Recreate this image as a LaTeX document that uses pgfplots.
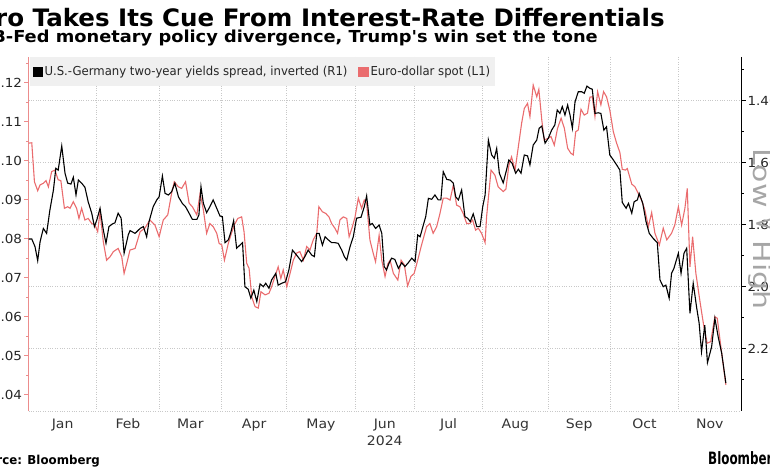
\documentclass[border=0pt]{standalone}
\usepackage{fontspec}
\setmainfont{DejaVu Sans}[FakeStretch=0.9]
\newfontfamily\titlef{DejaVu Sans}[FakeStretch=1.022]
\newfontfamily\subf{DejaVu Sans}[FakeStretch=1.08]
\newfontfamily\tickf{DejaVu Sans}[FakeStretch=1.08]
\newfontfamily\legf{DejaVu Sans}[FakeStretch=0.95]
\newfontfamily\hlf{DejaVu Sans}[FakeStretch=1.25]
\newfontfamily\bbf{DejaVu Sans}[FakeStretch=0.70]
\newfontfamily\srcf{DejaVu Sans}[FakeStretch=0.96]
\usepackage{graphicx}
\usepackage{pgfplots}
\usepackage{pgfplotstable}
\pgfplotsset{compat=1.18}
\definecolor{eured}{RGB}{234,108,110}
\definecolor{axred}{RGB}{236,140,140}
\definecolor{gridg}{RGB}{200,200,200}
\definecolor{legbg}{RGB}{240,240,240}

\pgfplotstableread{
d v
0 1.1045
1.1 1.1046
2.0 1.0946
3.1 1.0923
3.9 1.0938
5.0 1.0942
5.9 1.0949
6.7 1.0933
7.8 1.0972
8.9 1.0976
10.0 1.0951
10.9 1.0949
12.1 1.0878
13.2 1.0882
14.0 1.0878
15.1 1.0895
16.2 1.0878
17.0 1.0852
17.9 1.0878
19.0 1.0848
20.1 1.0852
21.3 1.0839
22.4 1.0835
23.3 1.0818
24.1 1.0869
25.2 1.0792
26.3 1.0745
27.5 1.0754
28.6 1.0767
30.2 1.0775
31.4 1.0754
32.2 1.0711
33.1 1.0737
34.2 1.0771
35.9 1.0775
37.6 1.0818
39.2 1.0827
40.9 1.0848
42.6 1.0835
44.0 1.0805
45.4 1.0848
46.9 1.0861
48.2 1.0916
49.1 1.0946
50.5 1.0933
51.6 1.0929
52.9 1.0946
54.1 1.0891
55.2 1.0882
56.7 1.0861
57.8 1.0916
58.9 1.0874
60.0 1.0814
61.1 1.0839
62.2 1.0831
63.4 1.0814
64.2 1.0788
65.1 1.0784
66.0 1.0745
67.3 1.0788
68.2 1.0810
69.3 1.0835
70.5 1.0852
71.8 1.0856
72.6 1.0818
73.5 1.0737
74.3 1.0724
75.2 1.0651
76.3 1.0626
77.4 1.0622
78.3 1.0664
79.7 1.0656
81.0 1.0660
81.9 1.0677
83.0 1.0703
84.1 1.0728
85.0 1.0698
85.8 1.0720
87.0 1.0677
88.1 1.0711
89.2 1.0745
90.3 1.0763
91.4 1.0767
92.6 1.0745
93.7 1.0780
94.8 1.0771
95.9 1.0797
97.1 1.0814
97.8 1.0882
99.0 1.0869
100.1 1.0865
101.2 1.0856
102.1 1.0839
103.2 1.0827
104.1 1.0814
104.9 1.0848
106.0 1.0856
107.2 1.0852
108.0 1.0805
109.1 1.0831
110.0 1.0856
111.1 1.0904
112.2 1.0878
113.1 1.0899
113.9 1.0891
115.0 1.0797
116.1 1.0763
116.9 1.0741
118.1 1.0809
119.0 1.0745
120.1 1.0703
121.0 1.0735
121.8 1.0745
122.9 1.0711
124.4 1.0694
125.5 1.0745
126.6 1.0733
127.7 1.0679
128.8 1.0703
129.9 1.0711
131.1 1.0745
132.4 1.0784
134.1 1.0831
135.2 1.0839
136.3 1.0814
137.5 1.0831
138.6 1.0865
139.7 1.0904
140.9 1.0904
142.0 1.0899
143.1 1.0938
144.2 1.0886
145.3 1.0882
146.4 1.0865
147.6 1.0839
148.7 1.0839
149.6 1.0848
150.6 1.0822
151.5 1.0827
152.6 1.0814
153.8 1.0790
154.3 1.0856
155.8 1.0976
157.1 1.0963
158.2 1.0933
159.9 1.0921
160.8 1.0927
161.8 1.0988
162.7 1.1010
163.9 1.0976
165.0 1.1036
166.1 1.1096
167.0 1.1134
168.1 1.1147
168.9 1.1113
170.0 1.1194
171.2 1.1164
171.9 1.1183
172.9 1.1104
173.7 1.1053
174.9 1.1057
176.0 1.1062
177.1 1.1040
178.2 1.1083
179.4 1.1109
180.5 1.1083
181.6 1.1032
182.7 1.1019
183.5 1.1015
184.3 1.1074
185.2 1.1079
186.1 1.1132
187.2 1.1117
188.3 1.1122
189.1 1.1163
189.9 1.1164
190.8 1.1113
191.7 1.1177
192.8 1.1143
193.7 1.1177
194.7 1.1164
195.8 1.1130
197.0 1.1074
198.1 1.1045
199.2 1.1021
200.0 1.0978
201.1 1.0976
201.7 1.0980
203.2 1.0940
204.3 1.0933
205.4 1.0916
206.5 1.0899
207.6 1.0874
208.8 1.0831
209.9 1.0867
211.0 1.0814
212.5 1.0784
213.8 1.0827
215.0 1.0797
216.6 1.0814
217.7 1.0835
218.9 1.0882
220.0 1.0835
221.1 1.0878
221.9 1.0929
222.8 1.0728
223.7 1.0805
224.8 1.0711
226.2 1.0638
227.5 1.0574
228.6 1.0532
229.8 1.0536
231.2 1.0600
232.0 1.0596
233.5 1.0506
234.9 1.0425
}\eurusd

\pgfplotstableread{
d v
0 1.846
1.1 1.846
2.2 1.871
3.1 1.916
3.9 1.855
5.0 1.812
6.1 1.828
7.2 1.753
8.4 1.688
9.2 1.618
10.0 1.624
11.2 1.546
12.3 1.634
13.2 1.666
14.3 1.669
15.1 1.647
16.0 1.704
16.8 1.656
17.9 1.666
19.0 1.679
20.1 1.726
21.3 1.763
22.2 1.806
23.0 1.785
24.1 1.747
25.2 1.817
26.1 1.860
27.1 1.806
28.2 1.798
29.1 1.794
30.2 1.763
31.2 1.779
32.2 1.892
33.6 1.833
34.2 1.819
35.9 1.828
37.6 1.812
38.7 1.806
39.8 1.839
40.6 1.790
42.0 1.742
43.2 1.720
44.0 1.710
45.1 1.643
46.0 1.699
47.1 1.704
48.2 1.694
49.3 1.666
50.5 1.710
51.8 1.731
52.9 1.742
54.1 1.763
55.2 1.783
56.7 1.783
57.4 1.769
58.1 1.677
58.9 1.731
60.0 1.761
61.1 1.742
62.2 1.720
63.4 1.747
64.5 1.772
65.3 1.774
66.2 1.858
67.3 1.849
68.2 1.823
69.1 1.787
70.1 1.876
71.2 1.866
72.1 1.858
72.9 2.000
74.0 2.008
74.9 2.037
75.9 2.011
76.9 2.048
78.0 1.991
79.1 2.000
79.9 1.989
81.0 2.005
81.9 1.978
83.3 1.957
84.1 1.995
85.3 1.989
86.6 1.984
87.7 1.946
88.9 1.882
90.3 1.898
92.0 1.919
93.1 1.903
94.2 1.882
95.4 1.898
96.3 1.903
97.1 1.828
97.9 1.828
99.0 1.866
99.9 1.839
101.0 1.849
102.1 1.858
103.2 1.858
104.3 1.860
105.5 1.882
106.4 1.903
107.2 1.914
108.3 1.871
109.4 1.839
110.5 1.779
112.0 1.776
113.1 1.742
113.9 1.707
115.0 1.801
115.8 1.796
116.9 1.812
118.1 1.801
119.0 1.828
119.8 1.935
120.6 1.946
121.4 1.925
122.3 1.908
123.4 1.912
124.6 1.941
125.7 1.923
126.8 1.935
127.9 1.923
129.1 1.908
130.2 1.919
131.1 1.833
131.9 1.839
133.0 1.801
133.8 1.774
134.7 1.715
135.8 1.718
136.9 1.704
138.0 1.720
138.9 1.720
139.7 1.629
140.9 1.654
142.0 1.656
143.1 1.666
143.9 1.710
144.8 1.720
145.9 1.688
147.0 1.774
147.9 1.779
148.8 1.790
149.8 1.765
151.0 1.806
152.1 1.806
153.0 1.742
153.8 1.704
154.9 1.527
156.0 1.575
156.9 1.586
157.7 1.554
158.6 1.634
159.9 1.665
161.0 1.624
161.8 1.591
162.9 1.602
164.1 1.634
165.0 1.621
165.9 1.634
167.0 1.575
168.1 1.578
168.9 1.607
170.0 1.543
171.2 1.527
172.0 1.489
172.9 1.482
174.0 1.537
175.1 1.521
176.2 1.495
177.3 1.478
178.1 1.430
179.0 1.441
179.8 1.419
180.7 1.446
181.6 1.414
182.4 1.446
183.2 1.489
184.1 1.403
185.2 1.371
186.3 1.371
187.2 1.376
188.1 1.353
189.1 1.360
189.9 1.363
190.8 1.441
191.9 1.439
192.8 1.441
193.8 1.495
194.7 1.484
195.8 1.575
197.0 1.591
198.1 1.607
199.2 1.624
200.0 1.728
201.3 1.747
202.1 1.731
203.2 1.763
204.0 1.726
205.1 1.720
205.7 1.699
206.9 1.731
208.0 1.790
209.1 1.828
210.4 1.844
211.8 1.858
212.7 1.978
213.8 2.000
214.7 1.995
215.8 2.037
216.6 1.957
217.4 1.941
218.9 1.892
219.8 1.957
220.8 1.892
221.7 1.876
222.8 2.086
223.9 1.989
225.1 2.070
225.9 2.118
226.7 2.210
227.8 2.124
228.7 2.245
230.1 2.194
231.2 2.102
232.3 2.161
233.5 2.215
234.9 2.311
}\spread

\pgfplotsset{
  base/.style={
    at={(28.5bp,59.3bp)}, anchor=south west, scale only axis,
    width=712.5bp, height=353.7bp,
    xmin=0, xmax=240,
    /pgf/number format/assume math mode=true,
    tick label style={font=\tickf\fontsize{12.5bp}{14bp}\selectfont, text=black!85},
    tick align=outside,
    major tick length=4.5bp, minor tick length=2.5bp,
  },
}

\begin{document}
\begin{tikzpicture}[x=1bp,y=1bp]
\useasboundingbox (0,0) rectangle (770,470);
\clip (0,0) rectangle (770,470);

% right axis, grids
\begin{axis}[base,
  ymin=1.259, ymax=2.4, y dir=reverse,
  axis y line*=right, axis x line*=bottom,
  y axis line style={black, line width=0.7bp, -},
  x axis line style={gridg, dotted, -},
  xtick={11.5,33.5,54.5,76,98.5,120,141.5,164,185.5,207.5,229.5},
  xticklabels={Jan,Feb,Mar,Apr,May,{Jun\\2024},Jul,Aug,Sep,Oct,Nov},
  xticklabel style={align=center, font=\tickf\fontsize{13bp}{17bp}\selectfont, text=black!80},
  major x tick style={draw=none},
  minor xtick={23,44,65,87,110,130,153,175,196,219},
  minor x tick style={draw=none},
  xminorgrids=true,
  ytick={1.4,1.6,1.8,2.0,2.2},
  minor ytick={1.3,1.5,1.7,1.9,2.1,2.3},
  ymajorgrids=true,
  y tick style={black, line width=0.6bp},
  grid style={gridg, dotted, line width=0.7bp},
  yticklabel style={/pgf/number format/.cd, fixed, fixed zerofill, precision=2},
  yticklabel shift=-1.5bp,
]
\addplot[draw=none] coordinates {(0,1.8) (240,1.8)};
\end{axis}

% left axis, euro-dollar
\begin{axis}[base,
  ymin=1.0359, ymax=1.1266,
  axis y line*=left, axis x line=none,
  y axis line style={axred, line width=0.7bp, -},
  ytick={1.04,1.05,1.06,1.07,1.08,1.09,1.10,1.11,1.12},
  minor ytick={1.045,1.055,1.065,1.075,1.085,1.095,1.105,1.115,1.125},
  y tick style={axred, line width=0.6bp},
  yticklabel style={/pgf/number format/.cd, fixed, fixed zerofill, precision=2},
  yticklabel shift=-1.5bp,
  legend columns=2,
  legend style={at={(0.002,1)}, anchor=north west, fill=legbg, draw=none,
    font=\legf\fontsize{12.3bp}{14bp}\selectfont, text=black!85,
    inner xsep=3bp, inner ysep=7bp,
    /tikz/every even column/.append style={column sep=9bp}},
  legend image code/.code={\fill[#1] (0bp,-4.5bp) rectangle (9bp,4.5bp);},
]
\addlegendimage{color=black}
\addlegendentry{U.S.-Germany two-year yields spread, inverted (R1)}
\addplot[color=eured, line width=1.1bp] table[x=d, y=v] {\eurusd};
\addlegendentry{Euro-dollar spot (L1)}
\end{axis}

% black line on right axis
\begin{axis}[base, hide axis, ymin=1.259, ymax=2.4, y dir=reverse]
\addplot[color=black, line width=1.1bp] table[x=d, y=v] {\spread};
\end{axis}

% texts
\node[anchor=base east, font=\titlef\fontsize{24bp}{26bp}\selectfont\bfseries, inner sep=0]
  at (665,443) {Euro Takes Its Cue From Interest-Rate Differentials};
\node[anchor=base east, font=\subf\fontsize{16.5bp}{18bp}\selectfont\bfseries, inner sep=0]
  at (598,427) {ECB-Fed monetary policy divergence, Trump's win set the tone};
\node[anchor=base east, font=\srcf\fontsize{12.3bp}{14bp}\selectfont\bfseries, inner sep=0]
  at (100,5) {Source: Bloomberg};
\node[anchor=base west, font=\bbf\fontsize{17bp}{19bp}\selectfont\bfseries, inner sep=0]
  at (708,5) {Bloomberg};
\node[anchor=base, rotate=-90, font=\hlf\fontsize{24bp}{26bp}\selectfont, text=black!35, inner sep=0]
  at (753,241) {Low \rotatebox{90}{<} High};
\end{tikzpicture}
\end{document}
